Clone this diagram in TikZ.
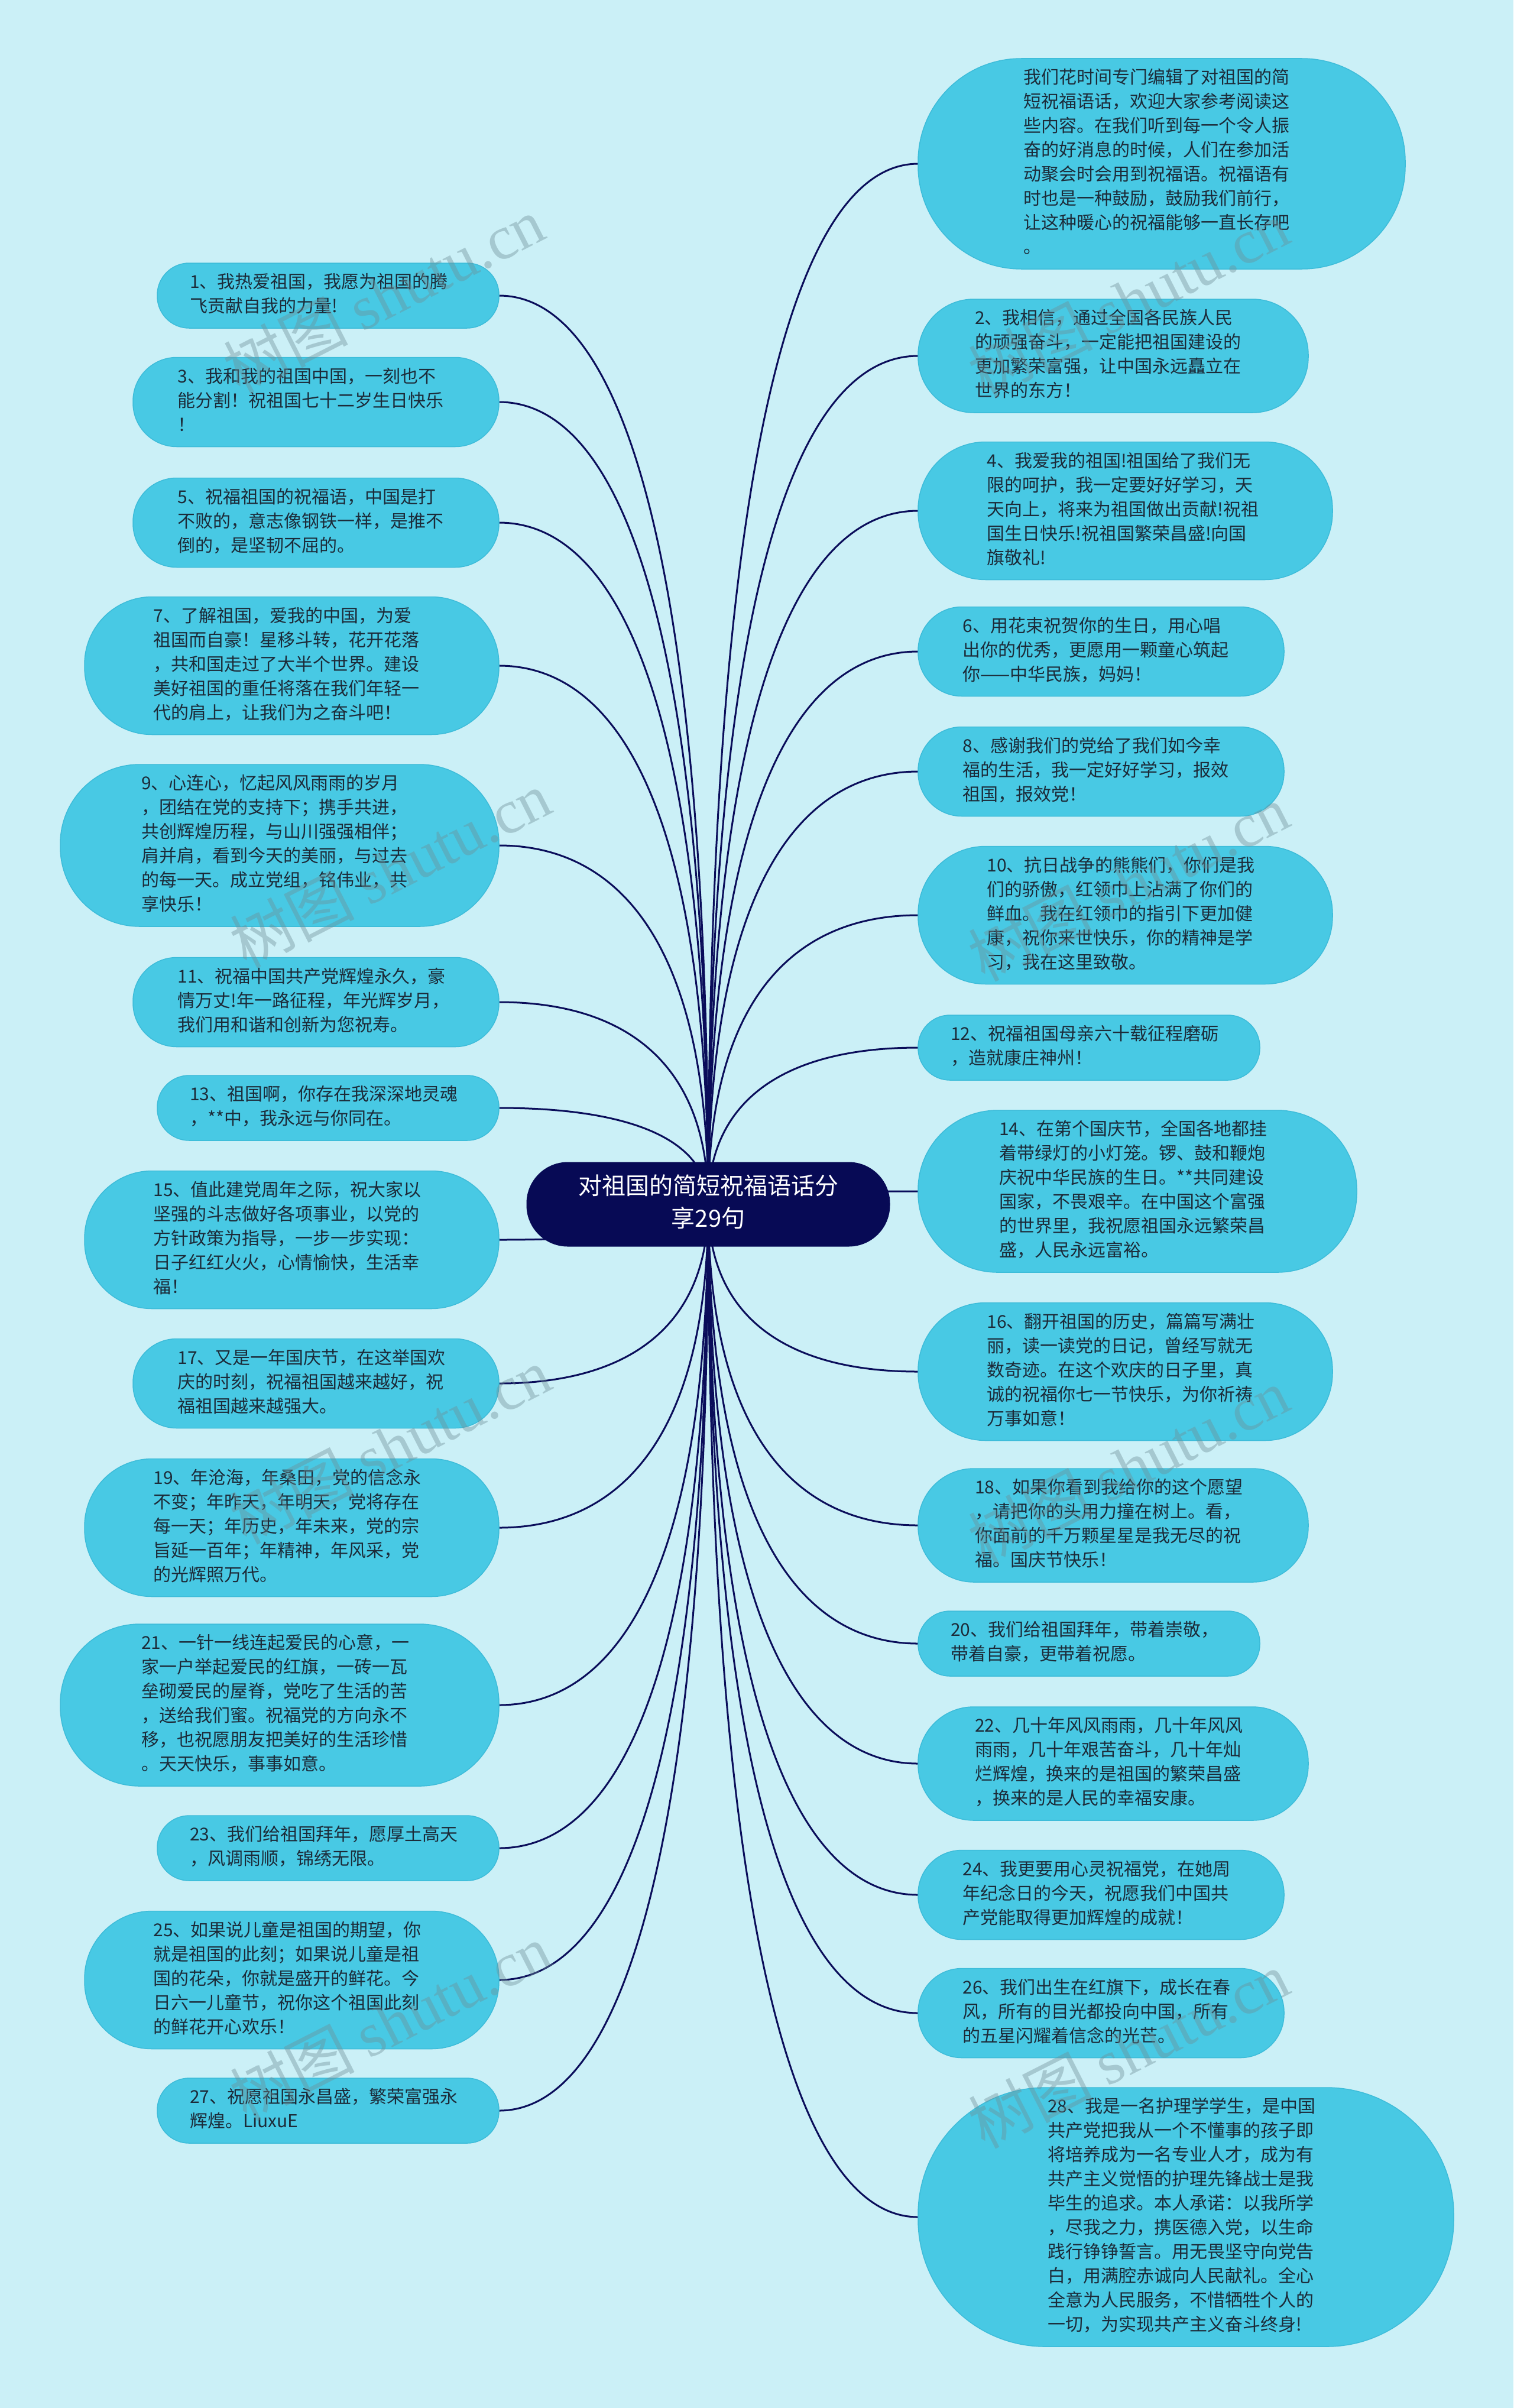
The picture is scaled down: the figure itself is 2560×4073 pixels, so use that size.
\documentclass[tikz,border=0pt]{standalone}
\usepackage{fontspec}
\setmainfont{Noto Sans CJK SC}
\newfontfamily\wmserif{Liberation Serif}
\usetikzlibrary{calc}
\definecolor{bgc}{HTML}{CBF0F7}
\definecolor{leafc}{HTML}{48C9E4}
\definecolor{leafd}{HTML}{3DBCD9}
\definecolor{rootc}{HTML}{070A55}
\definecolor{linec}{HTML}{0A0D5A}
\definecolor{txt}{HTML}{1C2B39}
\definecolor{wmc}{HTML}{6E8E96}
\pgfdeclarelayer{back}
\pgfdeclarelayer{lines}
\pgfsetlayers{back,lines,main}
\newcommand\leaftext[1]{\strut{}#1\strut}
\begin{document}
\begin{tikzpicture}[x=1pt,y=-1pt,
  leaf/.style={rectangle, fill=leafc, draw=leafd, line width=1.5pt, text=txt,
    font=\fontsize{30pt}{41pt}\selectfont, align=left, text width=468pt,
    minimum height=#1, inner xsep=0.5*#1, inner ysep=0pt, outer sep=0pt,
    rounded corners=0.49*#1},
  lleaf/.style={leaf=#1, anchor=east},
  rleaf/.style={leaf=#1, anchor=west},
  rootbox/.style={rectangle, fill=rootc, text=white, font=\fontsize{40pt}{55pt}\selectfont,
    align=center, minimum width=615pt, minimum height=143pt, rounded corners=70pt, inner sep=0pt},
  conn/.style={draw=linec, line width=3pt},
  wm/.style={text=wmc, opacity=0.4, font=\fontsize{105pt}{110pt}\selectfont, rotate=27}]
\begin{pgfonlayer}{back}
\fill[bgc] (0,0) rectangle (2560,4073);
\end{pgfonlayer}
\useasboundingbox (0,0) rectangle (2560,4073);

\node[rootbox] (root) at (1198,2037) {\strut{}对祖国的简短祝福语话分\\享29句\strut};

% left column
\node[lleaf=110] (n1) at (844,500) {\leaftext{1、我热爱祖国，我愿为祖国的腾\\飞贡献自我的力量!}};
\node[lleaf=151] (n3) at (844,680) {\leaftext{3、我和我的祖国中国，一刻也不\\能分割！祝祖国七十二岁生日快乐\\！}};
\node[lleaf=151] (n5) at (844,884) {\leaftext{5、祝福祖国的祝福语，中国是打\\不败的，意志像钢铁一样，是推不\\倒的，是坚韧不屈的。}};
\node[lleaf=233] (n7) at (844,1126) {\leaftext{7、了解祖国，爱我的中国，为爱\\祖国而自豪！星移斗转，花开花落\\，共和国走过了大半个世界。建设\\美好祖国的重任将落在我们年轻一\\代的肩上，让我们为之奋斗吧！}};
\node[lleaf=274] (n9) at (844,1430) {\leaftext{9、心连心，忆起风风雨雨的岁月\\，团结在党的支持下；携手共进，\\共创辉煌历程，与山川强强相伴；\\肩并肩，看到今天的美丽，与过去\\的每一天。成立党组，铭伟业，共\\享快乐！}};
\node[lleaf=151] (n11) at (844,1695) {\leaftext{11、祝福中国共产党辉煌永久，豪\\情万丈!年一路征程，年光辉岁月，\\我们用和谐和创新为您祝寿。}};
\node[lleaf=110] (n13) at (844,1874) {\leaftext{13、祖国啊，你存在我深深地灵魂\\，**中，我永远与你同在。}};
\node[lleaf=233] (n15) at (844,2097) {\leaftext{15、值此建党周年之际，祝大家以\\坚强的斗志做好各项事业，以党的\\方针政策为指导，一步一步实现：\\日子红红火火，心情愉快，生活幸\\福！}};
\node[lleaf=151] (n17) at (844,2340) {\leaftext{17、又是一年国庆节，在这举国欢\\庆的时刻，祝福祖国越来越好，祝\\福祖国越来越强大。}};
\node[lleaf=233] (n19) at (844,2584) {\leaftext{19、年沧海，年桑田，党的信念永\\不变；年昨天，年明天，党将存在\\每一天；年历史，年未来，党的宗\\旨延一百年；年精神，年风采，党\\的光辉照万代。}};
\node[lleaf=274] (n21) at (844,2884) {\leaftext{21、一针一线连起爱民的心意，一\\家一户举起爱民的红旗，一砖一瓦\\垒砌爱民的屋脊，党吃了生活的苦\\，送给我们蜜。祝福党的方向永不\\移，也祝愿朋友把美好的生活珍惜\\。天天快乐，事事如意。}};
\node[lleaf=110] (n23) at (844,3126) {\leaftext{23、我们给祖国拜年，愿厚土高天\\，风调雨顺，锦绣无限。}};
\node[lleaf=233] (n25) at (844,3349) {\leaftext{25、如果说儿童是祖国的期望，你\\就是祖国的此刻；如果说儿童是祖\\国的花朵，你就是盛开的鲜花。今\\日六一儿童节，祝你这个祖国此刻\\的鲜花开心欢乐！}};
\node[lleaf=110] (n27) at (844,3570) {\leaftext{27、祝愿祖国永昌盛，繁荣富强永\\辉煌。LiuxuE}};

% right column
\node[rleaf=356] (n0) at (1553,277) {\leaftext{我们花时间专门编辑了对祖国的简\\短祝福语话，欢迎大家参考阅读这\\些内容。在我们听到每一个令人振\\奋的好消息的时候，人们在参加活\\动聚会时会用到祝福语。祝福语有\\时也是一种鼓励，鼓励我们前行，\\让这种暖心的祝福能够一直长存吧\\。}};
\node[rleaf=192] (n2) at (1553,602) {\leaftext{2、我相信，通过全国各民族人民\\的顽强奋斗，一定能把祖国建设的\\更加繁荣富强，让中国永远矗立在\\世界的东方！}};
\node[rleaf=233] (n4) at (1553,864) {\leaftext{4、我爱我的祖国!祖国给了我们无\\限的呵护，我一定要好好学习，天\\天向上，将来为祖国做出贡献!祝祖\\国生日快乐!祝祖国繁荣昌盛!向国\\旗敬礼!}};
\node[rleaf=151] (n6) at (1553,1102) {\leaftext{6、用花束祝贺你的生日，用心唱\\出你的优秀，更愿用一颗童心筑起\\你——中华民族，妈妈！}};
\node[rleaf=151] (n8) at (1553,1305) {\leaftext{8、感谢我们的党给了我们如今幸\\福的生活，我一定好好学习，报效\\祖国，报效党！}};
\node[rleaf=233] (n10) at (1553,1548) {\leaftext{10、抗日战争的熊熊们，你们是我\\们的骄傲，红领巾上沾满了你们的\\鲜血。我在红领巾的指引下更加健\\康，祝你来世快乐，你的精神是学\\习，我在这里致敬。}};
\node[rleaf=110] (n12) at (1553,1772) {\leaftext{12、祝福祖国母亲六十载征程磨砺\\，造就康庄神州！}};
\node[rleaf=274] (n14) at (1553,2015) {\leaftext{14、在第个国庆节，全国各地都挂\\着带绿灯的小灯笼。锣、鼓和鞭炮\\庆祝中华民族的生日。**共同建设\\国家，不畏艰辛。在中国这个富强\\的世界里，我祝愿祖国永远繁荣昌\\盛，人民永远富裕。}};
\node[rleaf=233] (n16) at (1553,2320) {\leaftext{16、翻开祖国的历史，篇篇写满壮\\丽，读一读党的日记，曾经写就无\\数奇迹。在这个欢庆的日子里，真\\诚的祝福你七一节快乐，为你祈祷\\万事如意！}};
\node[rleaf=192] (n18) at (1553,2580) {\leaftext{18、如果你看到我给你的这个愿望\\，请把你的头用力撞在树上。看，\\你面前的千万颗星星是我无尽的祝\\福。国庆节快乐！}};
\node[rleaf=110] (n20) at (1553,2780) {\leaftext{20、我们给祖国拜年，带着崇敬，\\带着自豪，更带着祝愿。}};
\node[rleaf=192] (n22) at (1553,2983) {\leaftext{22、几十年风风雨雨，几十年风风\\雨雨，几十年艰苦奋斗，几十年灿\\烂辉煌，换来的是祖国的繁荣昌盛\\，换来的是人民的幸福安康。}};
\node[rleaf=151] (n24) at (1553,3205) {\leaftext{24、我更要用心灵祝福党，在她周\\年纪念日的今天，祝愿我们中国共\\产党能取得更加辉煌的成就！}};
\node[rleaf=151] (n26) at (1553,3405) {\leaftext{26、我们出生在红旗下，成长在春\\风，所有的目光都投向中国，所有\\的五星闪耀着信念的光芒。}};
\node[rleaf=438] (n28) at (1553,3750) {\leaftext{28、我是一名护理学学生，是中国\\共产党把我从一个不懂事的孩子即\\将培养成为一名专业人才，成为有\\共产主义觉悟的护理先锋战士是我\\毕生的追求。本人承诺：以我所学\\，尽我之力，携医德入党，以生命\\践行铮铮誓言。用无畏坚守向党告\\白，用满腔赤诚向人民献礼。全心\\全意为人民服务，不惜牺牲个人的\\一切，为实现共产主义奋斗终身!}};

% connectors
\begin{pgfonlayer}{lines}
\foreach \n in {n1,n3,n5,n7,n9,n11,n13,n15,n17,n19,n21,n23,n25,n27}
  \draw[conn] (root.center) .. controls ($(root.center)!0.7!(root.center|-\n.east)$) and ($(\n.east)!0.6!(root.center|-\n.east)$) .. (\n.east);
\foreach \n in {n0,n2,n4,n6,n8,n10,n12,n14,n16,n18,n20,n22,n24,n26,n28}
  \draw[conn] (root.center) .. controls ($(root.center)!0.7!(root.center|-\n.west)$) and ($(\n.west)!0.6!(root.center|-\n.west)$) .. (\n.west);
\end{pgfonlayer}

% watermarks
\node[wm] (w1) at (649,499) {树图 {\wmserif shutu.cn}};
\node[wm] (w2) at (660,1470) {树图 {\wmserif shutu.cn}};
\node[wm] (w3) at (660,2445) {树图 {\wmserif shutu.cn}};
\node[wm] (w4) at (660,3420) {树图 {\wmserif shutu.cn}};
\node[wm] (w5) at (1909,506) {树图 {\wmserif shutu.cn}};
\node[wm] (w6) at (1909,1493) {树图 {\wmserif shutu.cn}};
\node[wm] (w7) at (1909,2480) {树图 {\wmserif shutu.cn}};
\node[wm] (w8) at (1909,3467) {树图 {\wmserif shutu.cn}};
\end{tikzpicture}
\end{document}
